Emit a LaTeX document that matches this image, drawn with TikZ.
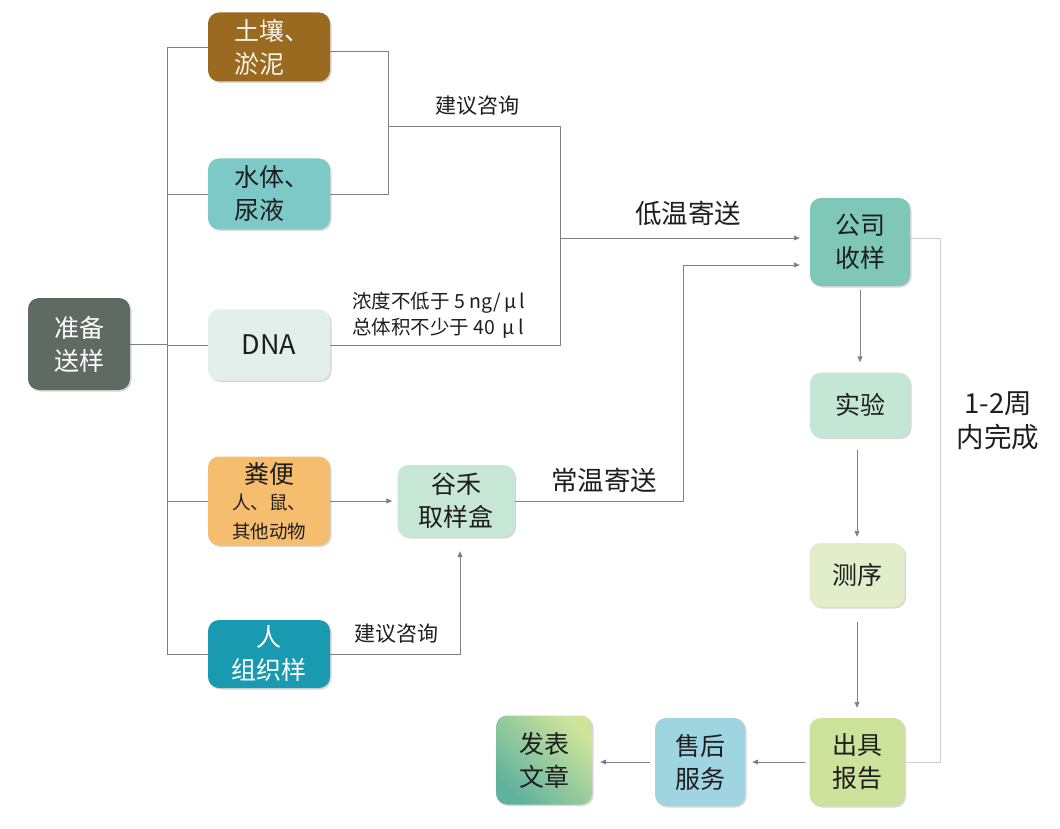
\documentclass[tikz,border=0pt]{standalone}
\usepackage{fontspec}
\setmainfont{Noto Sans CJK SC}
\usetikzlibrary{shadows,arrows.meta}

\definecolor{prepc}{HTML}{5E6A62}
\definecolor{soilc}{HTML}{996A1F}
\definecolor{waterc}{HTML}{7DC9C8}
\definecolor{dnac}{HTML}{E2EFEA}
\definecolor{fecesc}{HTML}{F5BD6E}
\definecolor{humanc}{HTML}{1A9AB0}
\definecolor{kitc}{HTML}{C6E6D6}
\definecolor{recvc}{HTML}{7FC8B8}
\definecolor{labc}{HTML}{C4E6D4}
\definecolor{seqc}{HTML}{E1EEC9}
\definecolor{reportc}{HTML}{CDE39B}
\definecolor{servc}{HTML}{9FD4E1}
\definecolor{pubA}{HTML}{5FB29E}
\definecolor{pubB}{HTML}{CDE49A}
\definecolor{linec}{HTML}{808080}
\definecolor{lightc}{HTML}{CFCFCF}
\definecolor{txtc}{HTML}{1E1E1E}

\tikzset{
  box/.style={rounded corners=11pt, inner sep=0pt, align=center,
    text=txtc, font=\fontsize{25}{33}\selectfont,
    drop shadow={shadow xshift=1.5pt, shadow yshift=-1.5pt, opacity=0.25, fill=black!60}},
  conn/.style={draw=linec, line width=0.9pt},
  arr/.style={conn, -{Triangle[length=6pt,width=5pt]}},
  lightline/.style={draw=lightc, line width=0.9pt},
  lbl/.style={text=txtc, font=\fontsize{21}{26}\selectfont, inner sep=0pt},
  biglbl/.style={text=txtc, font=\fontsize{26.5}{32}\selectfont, inner sep=0pt},
}

\begin{document}
\begin{tikzpicture}[x=1pt, y=-1pt]
\fill[white] (0,0) rectangle (1060,829);
\useasboundingbox (0,0) rectangle (1060,829);

% sample preparation and sample types
\node[box, fill=prepc, text=white, minimum width=102pt, minimum height=92pt] (prep) at (79,344) {准备\\送样};
\node[box, fill=soilc, text=white!92!soilc, align=left, minimum width=122pt, minimum height=69pt] (soil) at (269,47) {\hspace*{6pt}土壤、\\\hspace*{6pt}淤泥};
\node[box, fill=waterc, align=left, minimum width=122pt, minimum height=71pt] (water) at (269,194) {\hspace*{6pt}水体、\\\hspace*{6pt}尿液};
\node[box, fill=dnac, font=\fontsize{27}{33}\selectfont, minimum width=122pt, minimum height=71pt] (dna) at (269,345) {DNA};
\node[box, fill=fecesc, minimum width=122pt, minimum height=89pt] (feces) at (269,501)
  {粪便\\[-7pt]{\fontsize{18.5}{24}\selectfont 人、鼠、}\\[-4pt]{\fontsize{18.5}{24}\selectfont 其他动物}};
\node[box, fill=humanc, text=white, minimum width=122pt, minimum height=68pt] (human) at (269,654) {人\\组织样};
\node[box, fill=kitc, minimum width=117pt, minimum height=72pt] (kit) at (456,501) {谷禾\\取样盒};

% company workflow
\node[box, fill=recvc, minimum width=100pt, minimum height=88pt] (recv) at (860,242) {公司\\收样};
\node[box, fill=labc, minimum width=100pt, minimum height=65pt] (lab) at (860,405) {实验};
\node[box, fill=seqc, minimum width=95pt, minimum height=64pt] (seq) at (857,575) {测序};
\node[box, fill=reportc, minimum width=95pt, minimum height=88pt] (report) at (857,762) {出具\\报告};
\node[box, fill=servc, minimum width=90pt, minimum height=88pt] (serv) at (700,762) {售后\\服务};
\node[box, top color=pubB, bottom color=pubA, shading angle=-45, minimum width=96pt, minimum height=89pt] (pub) at (544,760) {发表\\文章};

% junction points
\coordinate (tk) at (167,0);
\coordinate (m1) at (388,126);
\coordinate (m2) at (560,126);
\coordinate (m3) at (560,238);
\coordinate (r2) at (683,265);
\coordinate (h1) at (460,0);
\coordinate (side) at (940,0);

% trunk and branches
\draw[conn] (prep.east) -- (prep.east -| tk);
\draw[conn] (tk |- soil.west) -- (tk |- human.west);
\draw[conn] (tk |- soil.west) -- (soil.west);
\draw[conn] (tk |- water.west) -- (water.west);
\draw[conn] (tk |- dna.west) -- (dna.west);
\draw[conn] (tk |- feces.west) -- (feces.west);
\draw[conn] (tk |- human.west) -- (human.west);

% cold shipping route
\draw[conn] ([yshift=-4pt]soil.east) -| (m1);
\draw[conn] (water.east) -| (m1);
\draw[conn] (m1) -- (m2);
\draw[conn] (dna.east) -| (m2);
\draw[arr, shorten >=10pt] (m3) -- (m3 -| recv.west);

% room-temperature route
\draw[arr, shorten >=5pt] (feces.east) -- (kit.west);
\draw[arr, shorten >=14pt] (human.east) -- (human.east -| h1) -- (h1 |- kit.south);
\draw[arr, shorten >=10pt] (kit.east) -| (r2) -- (r2 -| recv.west);

% workflow arrows
\draw[arr, shorten <=4pt, shorten >=10pt] (recv.south) -- (recv.south |- lab.north);
\draw[arr, shorten <=12pt, shorten >=6pt] (lab.south -| seq.north) -- (seq.north);
\draw[arr, shorten <=15pt, shorten >=10pt] (seq.south) -- (report.north);
\draw[arr, shorten <=4pt, shorten >=7pt] (report.west) -- (serv.east);
\draw[arr, shorten <=5pt, shorten >=8pt] (serv.west) -- (serv.west -| pub.east);

% turnaround bracket
\draw[lightline] ([yshift=4pt]recv.east) -- ([yshift=4pt]recv.east -| side) |- (report.east);

% labels
\node[lbl] at (477,106) {建议咨询};
\node[biglbl] at (688,213) {低温寄送};
\node[biglbl] at (604,480) {常温寄送};
\node[lbl] at (396,634) {建议咨询};
\node[lbl, font=\fontsize{19.5}{26}\selectfont, align=left, anchor=west] at (352,315)
  {浓度不低于 5 ng/\,μ\,l\\总体积不少于 40 \,μ\,l};
\node[biglbl, font=\fontsize{27.5}{34}\selectfont, align=center] at (998,421) {1-2周\\内完成};
\end{tikzpicture}
\end{document}
